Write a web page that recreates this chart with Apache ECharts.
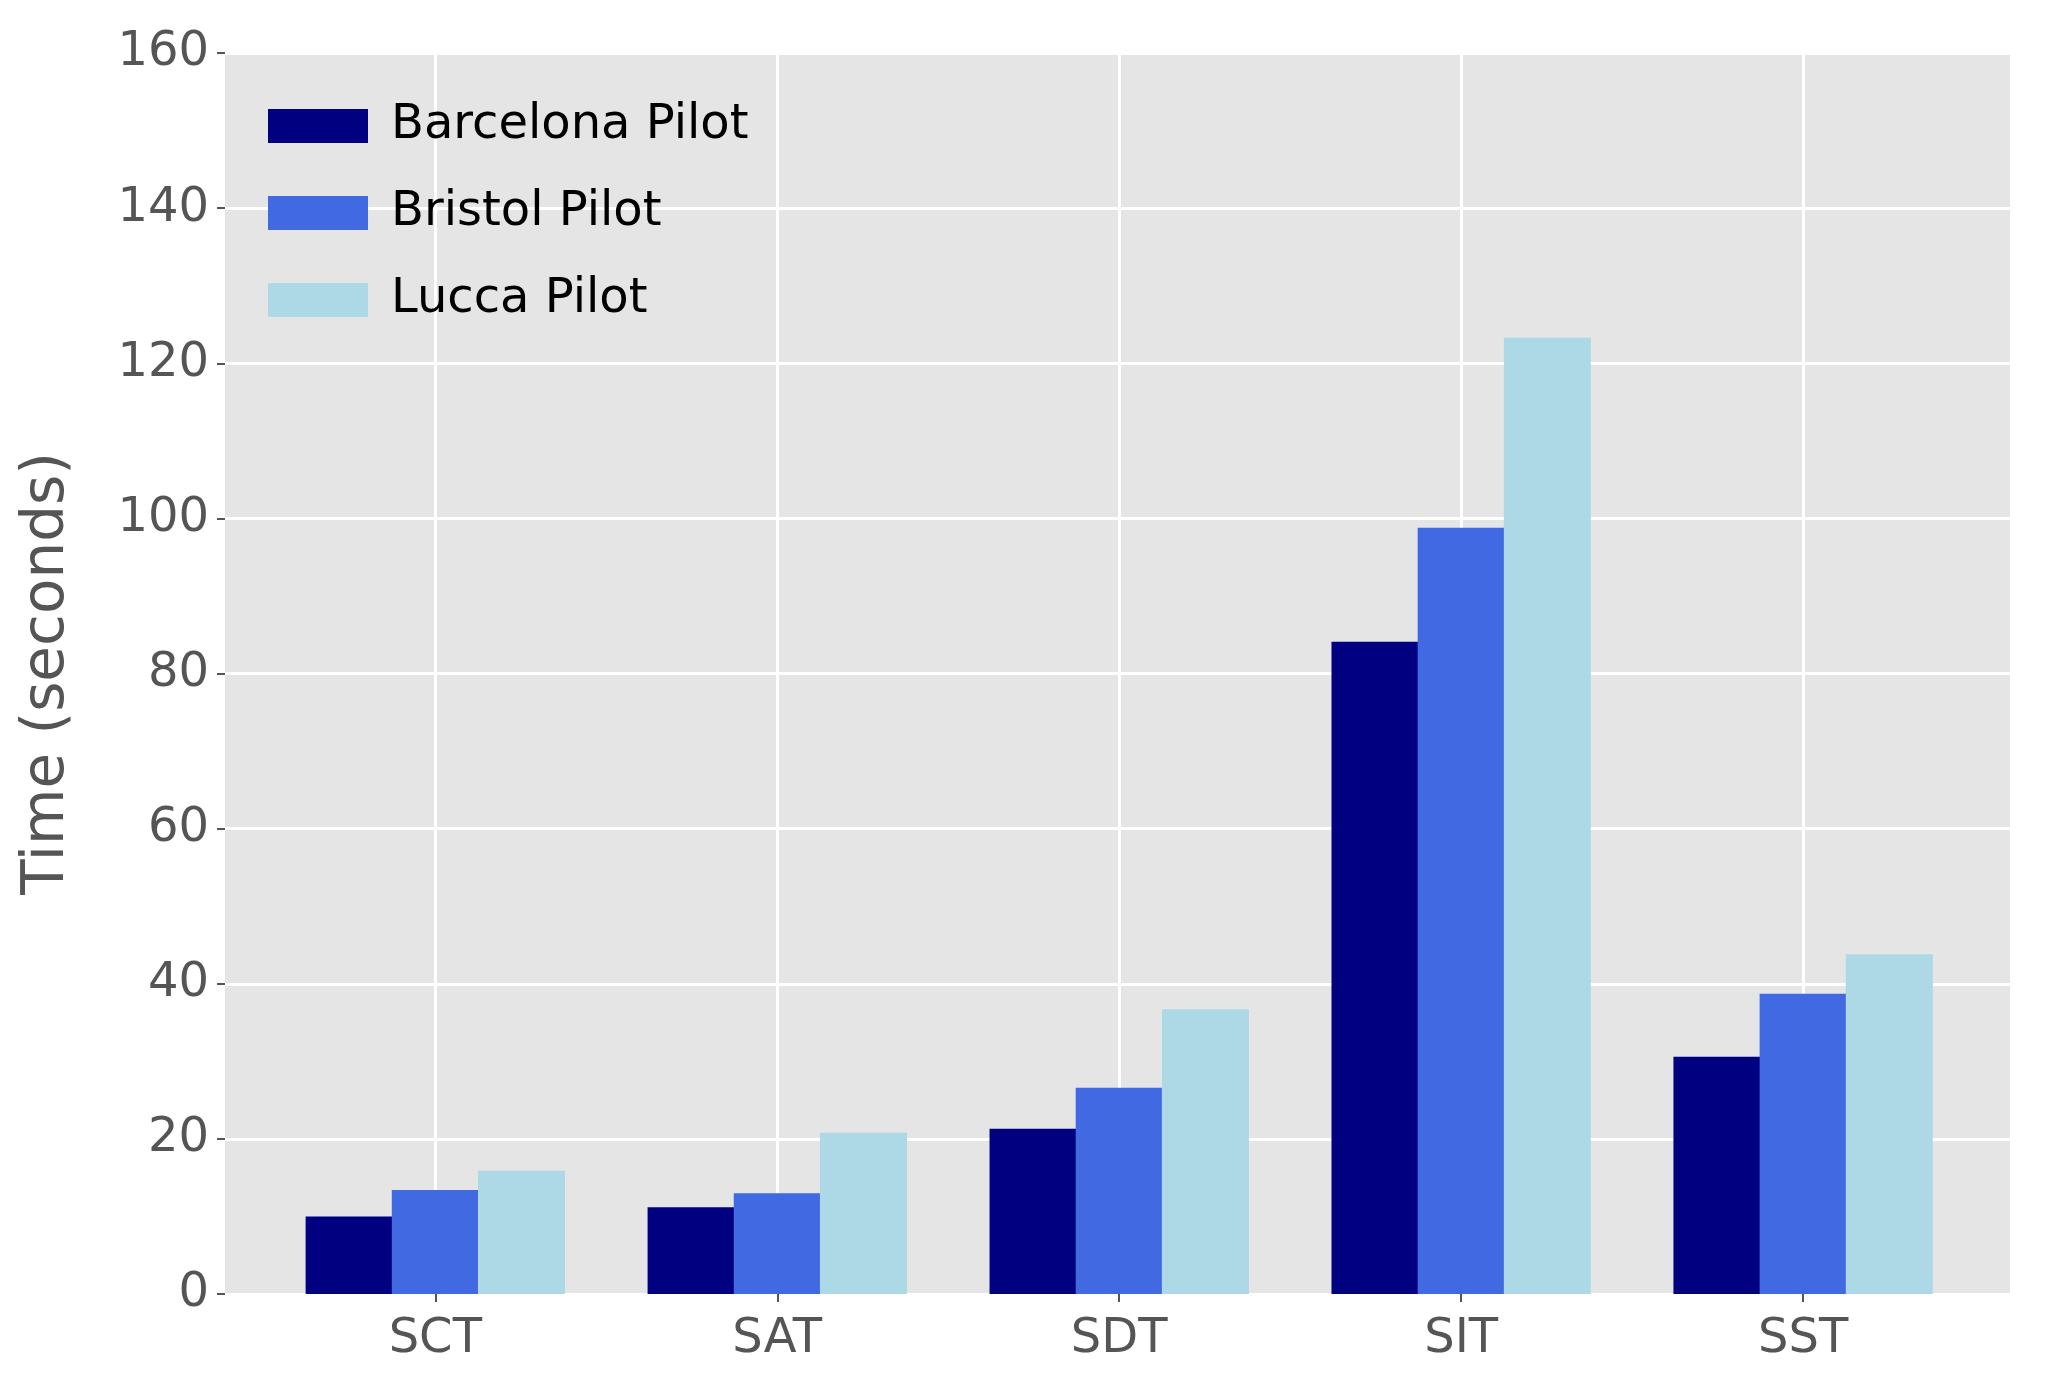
<!DOCTYPE html>
<html>
<head>
<meta charset="utf-8">
<script src="https://cdn.jsdelivr.net/npm/echarts@6/dist/echarts.min.js"></script>
<style>html,body{margin:0;padding:0;background:#fff}#chart{width:2055px;height:1390px}</style>
</head>
<body>
<div id="chart"></div>
<script>
const categories = ['SCT', 'SAT', 'SDT', 'SIT', 'SST'];
const barcelona = [10.0, 11.2, 21.3, 84.1, 30.6];
const bristol = [13.4, 13.0, 26.6, 98.8, 38.7];
const lucca = [15.9, 20.8, 36.7, 123.3, 43.8];
const yTicks = [0, 20, 40, 60, 80, 100, 120, 140, 160];

const font = 'DejaVu Sans';
const shift = 0.252;
function place(vals, off) {
  return vals.map((v, i) => [i + off, v]);
}
function bar(name, vals, off, color) {
  return {
    name, type: 'bar', data: place(vals, off), barWidth: 87, barGap: '-100%',
    itemStyle: { color }
  };
}

const chart = echarts.init(document.getElementById('chart'));
chart.setOption({
  animation: false,
  textStyle: { fontFamily: font },
  grid: { left: 225, right: 45, top: 53, bottom: 96, show: true, backgroundColor: '#e5e5e5', borderWidth: 0 },
  legend: {
    left: 263, top: 97, orient: 'vertical', itemWidth: 100, itemHeight: 34, itemGap: 39,
    textStyle: { fontSize: 48, lineHeight: 34, color: '#000', fontFamily: font, padding: [0, 0, 0, 18] },
    icon: 'rect'
  },
  xAxis: {
    type: 'value', min: -0.615, max: 4.605,
    axisLine: { show: false },
    axisTick: { show: true, length: 8, lineStyle: { color: '#555', width: 2 }, customValues: [0, 1, 2, 3, 4] },
    axisLabel: { customValues: [0, 1, 2, 3, 4], formatter: v => categories[Math.round(v)], fontSize: 48, color: '#555', margin: 22 },
    splitLine: { show: true, lineStyle: { color: '#fff', width: 3 } }
  },
  yAxis: {
    type: 'value', min: 0, max: 160, interval: 20,
    name: 'Time (seconds)', nameLocation: 'middle', nameGap: 148,
    nameTextStyle: { fontSize: 58, color: '#555' },
    axisLine: { show: false, onZero: false },
    axisTick: { show: true, length: 8, lineStyle: { color: '#555', width: 2 } },
    axisLabel: { fontSize: 48, color: '#555', margin: 16, formatter: v => yTicks.includes(v) ? String(v) : '' },
    splitLine: { show: true, lineStyle: { color: '#fff', width: 3 } }
  },
  series: [
    bar('Barcelona Pilot', barcelona, -shift, '#000080'),
    bar('Bristol Pilot', bristol, 0, '#4169e1'),
    bar('Lucca Pilot', lucca, shift, '#add8e6')
  ]
});
</script>
</body>
</html>
